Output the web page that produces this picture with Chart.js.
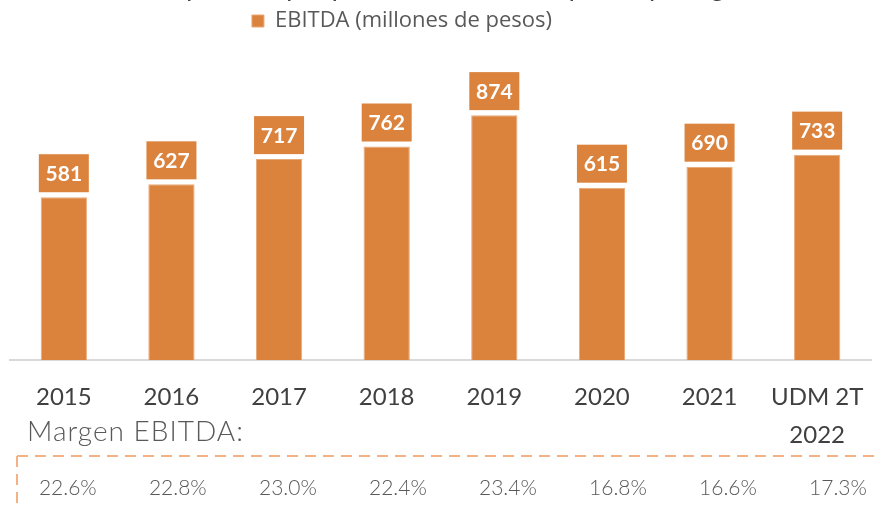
<!DOCTYPE html>
<html>
<head>
<meta charset="utf-8">
<script src="https://cdn.jsdelivr.net/npm/chart.js@4.4.1/dist/chart.umd.min.js"></script>
<style>
  body { margin: 0; background: #fff; }
  #wrap { width: 881px; height: 508px; position: relative; }
</style>
</head>
<body>
<div id="wrap"><canvas id="chart"></canvas></div>
<script>
const categories = ['2015', '2016', '2017', '2018', '2019', '2020', '2021', ['UDM 2T', '2022']];
const ebitda = [581, 627, 717, 762, 874, 615, 690, 733];
const margen = [22.6, 22.8, 23.0, 22.4, 23.4, 16.8, 16.6, 17.3];
const seriesLabel = 'EBITDA (millones de pesos)';
const margenTitle = 'Margen EBITDA:';
const titleText = 'EBITDA comparativo por periodo (millones de pesos) y margen EBITDA';

const orange = '#DB823C';
const dashOrange = '#F4B183';
const gray = '#595959';

// boxes with the value above each bar
const valueBoxes = {
  id: 'valueBoxes',
  afterDatasetsDraw(chart) {
    const ctx = chart.ctx;
    const meta = chart.getDatasetMeta(0);
    ctx.save();
    meta.data.forEach((bar, i) => {
      const w = 50, h = 38, gap = 5;
      ctx.fillStyle = orange;
      ctx.fillRect(bar.x - w / 2, bar.y - gap - h, w, h);
      ctx.fillStyle = '#fff';
      ctx.font = 'bold 21px Lato';
      ctx.textAlign = 'center';
      ctx.textBaseline = 'middle';
      ctx.fillText(ebitda[i], bar.x, bar.y - gap - h / 2 + 1);
    });
    ctx.restore();
  }
};

// margin row under the chart + clipped title at the top
const margenRow = {
  id: 'margenRow',
  afterLayout(chart) {
    // legend sits a bit left of centre in the original
    chart.legend.right -= 77;
  },
  afterDraw(chart) {
    const ctx = chart.ctx;
    const x = chart.scales.x;
    ctx.save();

    ctx.fillStyle = '#404040';
    ctx.font = '26px Lato';
    ctx.textBaseline = 'alphabetic';
    ctx.textAlign = 'left';
    ctx.fillText(titleText, 40, -4);

    ctx.fillStyle = gray;
    ctx.font = '300 28px Lato';
    ctx.textBaseline = 'middle';
    ctx.letterSpacing = '1px';
    ctx.fillText(margenTitle, 27, 432);
    ctx.letterSpacing = '0px';

    ctx.strokeStyle = dashOrange;
    ctx.lineWidth = 2;
    ctx.setLineDash([11, 7]);
    ctx.beginPath();
    ctx.moveTo(17, 456);
    ctx.lineTo(chart.width, 456);
    ctx.moveTo(17, 456);
    ctx.lineTo(17, chart.height);
    ctx.stroke();
    ctx.setLineDash([]);

    ctx.font = '300 21px Lato';
    ctx.textAlign = 'center';
    margen.forEach((m, i) => {
      const px = x.getPixelForValue(i) + 4 + i * 2.4;
      ctx.fillText(m.toFixed(1) + '%', px, 488);
    });
    ctx.restore();
  }
};

new Chart(document.getElementById('chart'), {
  type: 'bar',
  data: {
    labels: categories,
    datasets: [{
      label: seriesLabel,
      data: ebitda,
      backgroundColor: orange,
      borderColor: '#E9A877',
      borderWidth: 1,
      barPercentage: 0.43,
      categoryPercentage: 1
    }]
  },
  options: {
    responsive: true,
    maintainAspectRatio: false,
    animation: false,
    layout: { padding: { left: 10, right: 10, top: 2, bottom: 0 } },
    plugins: {
      legend: {
        position: 'top',
        labels: {
          boxWidth: 12,
          boxHeight: 12,
          color: gray,
          font: { family: 'Open Sans', size: 22 },
          padding: 8
        }
      },
      tooltip: { enabled: false }
    },
    scales: {
      x: {
        grid: { display: false },
        border: { display: true, color: '#D9D9D9', width: 2 },
        ticks: {
          color: '#404040',
          padding: 10,
          maxRotation: 0,
          autoSkip: false,
          font: { family: 'Lato', size: 24, lineHeight: 1.6 }
        },
        afterFit(scale) { scale.height = 148; }
      },
      y: {
        display: false,
        min: 0,
        max: 1135
      }
    }
  },
  plugins: [valueBoxes, margenRow]
});
</script>
</body>
</html>
